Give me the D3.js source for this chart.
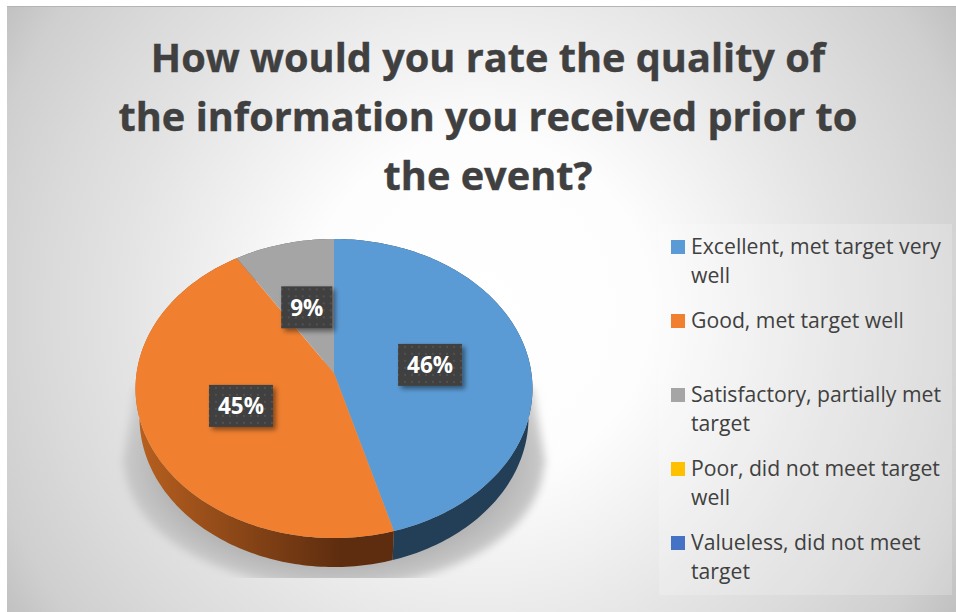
<!DOCTYPE html>
<meta charset="utf-8">
<style>
  html, body { margin: 0; padding: 0; background: #fff; }
  text { font-family: "Open Sans", sans-serif; }
</style>

<!-- Load d3.js -->
<script src="https://d3js.org/d3.v7.min.js"></script>

<!-- Create a div where the graph will take place -->
<div id="my_dataviz"></div>

<script>
// Chart data
var titleLines = ["How would you rate the quality of", "the information you received prior to", "the event?"];
var categories = [
  "Excellent, met target very well",
  "Good, met target well",
  "Satisfactory, partially met target",
  "Poor, did not meet target well",
  "Valueless, did not meet target"
];
var values = [45.6, 45.4, 9, 0, 0];
var colors = ["#5b9bd5", "#f08030", "#a5a5a5", "#ffc000", "#4472c4"];

var width = 956, height = 612;

var svg = d3.select("#my_dataviz")
  .append("svg")
    .attr("width", width)
    .attr("height", height)
    .style("display", "block");

var defs = svg.append("defs");

// Panel background
var bg = defs.append("radialGradient")
    .attr("id", "panelFill")
    .attr("gradientUnits", "userSpaceOnUse")
    .attr("cx", 480).attr("cy", 308).attr("r", 570);
[[0, "#ffffff"], [30, "#fdfdfd"], [63, "#e3e3e3"], [76, "#dadada"], [90, "#cfcfcf"], [100, "#bfbfbf"]]
  .forEach(s => bg.append("stop").attr("offset", s[0] + "%").attr("stop-color", s[1]));

svg.append("rect")
    .attr("x", 7).attr("y", 6)
    .attr("width", 949).attr("height", 606)
    .attr("fill", "url(#panelFill)");
svg.append("line")
    .attr("x1", 7).attr("x2", 956).attr("y1", 6.5).attr("y2", 6.5)
    .attr("stroke", "#b4b4b4");

// Title
svg.append("g").selectAll("text")
  .data(titleLines)
  .join("text")
    .attr("x", 488)
    .attr("y", (d, i) => 72 + i * 59)
    .attr("text-anchor", "middle")
    .attr("font-size", 39.7)
    .attr("font-weight", 700)
    .attr("fill", "#404040")
    .attr("stroke", "#404040")
    .attr("stroke-width", 0.4)
    .text(d => d);

// Pie in perspective: the unit disc goes through a small homography
var cx = 334, cy = 373, ax = 197.4, ay = 147.9, tilt = -0.1037, depth = 29;

function project(angle, r) {
  var u = Math.sin(angle) * r, v = -Math.cos(angle) * r, w = 1 + tilt * v;
  return [cx + ax * u / w, cy + ay * v / w];
}
function projectLow(angle) {
  var p = project(angle, 1);
  return [cx + (p[0] - cx) * 0.98, p[1] + depth];
}
function arcPoints(a0, a1, f) {
  var n = Math.max(2, Math.ceil((a1 - a0) / 0.02));
  return d3.range(n + 1).map(i => f(a0 + (a1 - a0) * i / n));
}

var pie = d3.pie().sort(null).value(d => d)(values);
var slices = pie.filter(d => d.value > 0);
var line = d3.line();

// Soft shadow under the pie: flared shoulders, then a rounded base cut flat at the bottom
defs.append("filter").attr("id", "blur")
    .attr("x", "-20%").attr("y", "-20%").attr("width", "140%").attr("height", "140%")
  .append("feGaussianBlur").attr("stdDeviation", 4);
defs.append("clipPath").attr("id", "shadowClip")
  .append("rect").attr("x", 90).attr("y", 360).attr("width", 490).attr("height", 218);
var shade = defs.append("radialGradient").attr("id", "shadeFill")
    .attr("gradientUnits", "userSpaceOnUse")
    .attr("cx", 0).attr("cy", 0).attr("r", 1)
    .attr("gradientTransform", "translate(" + cx + ",462) scale(216,128)");
shade.append("stop").attr("offset", "78%").attr("stop-color", "#b2b2b2");
shade.append("stop").attr("offset", "100%").attr("stop-color", "#cdcdcd");

var shadow = svg.append("g").attr("clip-path", "url(#shadowClip)")
  .append("g").attr("filter", "url(#blur)");
shadow.append("ellipse")
    .attr("cx", cx).attr("cy", 462)
    .attr("rx", 210).attr("ry", 126)
    .attr("fill", "url(#shadeFill)");
shadow.append("path")
    .attr("fill", "url(#shadeFill)")
    .attr("d", line([[135, 388], [533, 388], [546, 466], [122, 466]]) + "Z");

// Side walls
var orangeWall = defs.append("linearGradient").attr("id", "wall1")
    .attr("gradientUnits", "userSpaceOnUse")
    .attr("x1", 136).attr("x2", 340).attr("y1", 0).attr("y2", 0);
orangeWall.append("stop").attr("offset", "0%").attr("stop-color", "#b8601f");
orangeWall.append("stop").attr("offset", "100%").attr("stop-color", "#5e2d0f");
var wallFills = ["#233e57", "url(#wall1)", "#5f5f5f"];

svg.append("g").selectAll("path")
  .data(slices)
  .join("path")
    .attr("fill", (d, i) => wallFills[i])
    .attr("d", d => line(
      arcPoints(d.startAngle, d.endAngle, a => project(a, 1))
        .concat(arcPoints(d.startAngle, d.endAngle, projectLow).reverse())
    ) + "Z");

// Top faces
svg.append("g").selectAll("path")
  .data(slices)
  .join("path")
    .attr("fill", d => colors[d.index])
    .attr("d", d => line([[cx, cy]].concat(arcPoints(d.startAngle, d.endAngle, a => project(a, 1)))) + "Z");

// Data labels
var dots = defs.append("pattern").attr("id", "dots")
    .attr("patternUnits", "userSpaceOnUse")
    .attr("width", 7).attr("height", 7);
dots.append("rect").attr("width", 7).attr("height", 7).attr("fill", "#404040");
dots.append("rect").attr("x", 2).attr("y", 2).attr("width", 2).attr("height", 2).attr("fill", "#515151");

defs.append("filter").attr("id", "labelShadow")
    .attr("x", "-20%").attr("y", "-20%").attr("width", "150%").attr("height", "150%")
  .append("feDropShadow")
    .attr("dx", 3).attr("dy", 3).attr("stdDeviation", 2.5)
    .attr("flood-color", "#000").attr("flood-opacity", 0.45);

var labels = svg.append("g").selectAll("g")
  .data(slices)
  .join("g")
    .attr("transform", d => {
      var p = project((d.startAngle + d.endAngle) / 2, 0.5);
      return "translate(" + (p[0] - 1) + "," + (p[1] + 2) + ")";
    });

labels.append("text")
    .attr("text-anchor", "middle")
    .attr("y", 8.5)
    .attr("font-size", 22.5)
    .attr("font-weight", 700)
    .attr("fill", "#fff")
    .text(d => Math.round(d.value) + "%");

labels.insert("rect", "text")
    .each(function() {
      var w = this.parentNode.querySelector("text").getComputedTextLength() + 18;
      d3.select(this)
        .attr("x", -w / 2).attr("y", -21)
        .attr("width", w).attr("height", 42);
    })
    .attr("fill", "url(#dots)")
    .attr("filter", "url(#labelShadow)");

// Legend
svg.append("rect")
    .attr("x", 659).attr("y", 224)
    .attr("width", 293).attr("height", 371)
    .attr("fill", "#fff").attr("fill-opacity", 0.2);

var rowY = d3.scalePoint().domain(categories).range([247, 543]);

var legend = svg.append("g").selectAll("g")
  .data(categories)
  .join("g")
    .attr("transform", d => "translate(671," + rowY(d) + ")");

legend.append("rect")
    .attr("y", -7)
    .attr("width", 14).attr("height", 14)
    .attr("fill", (d, i) => colors[i]);

// Wrap each entry to the legend width
legend.append("text")
    .attr("x", 20)
    .attr("y", 7)
    .attr("font-size", 21.2)
    .attr("fill", "#404040")
    .each(function(d) {
      var text = d3.select(this), words = d.split(" "), cur = [];
      var tspan = text.append("tspan").attr("x", 20);
      words.forEach(function(word) {
        cur.push(word);
        tspan.text(cur.join(" "));
        if (tspan.node().getComputedTextLength() > 262 && cur.length > 1) {
          cur.pop();
          tspan.text(cur.join(" "));
          cur = [word];
          tspan = text.append("tspan").attr("x", 20).attr("dy", 29).text(word);
        }
      });
    });
</script>
